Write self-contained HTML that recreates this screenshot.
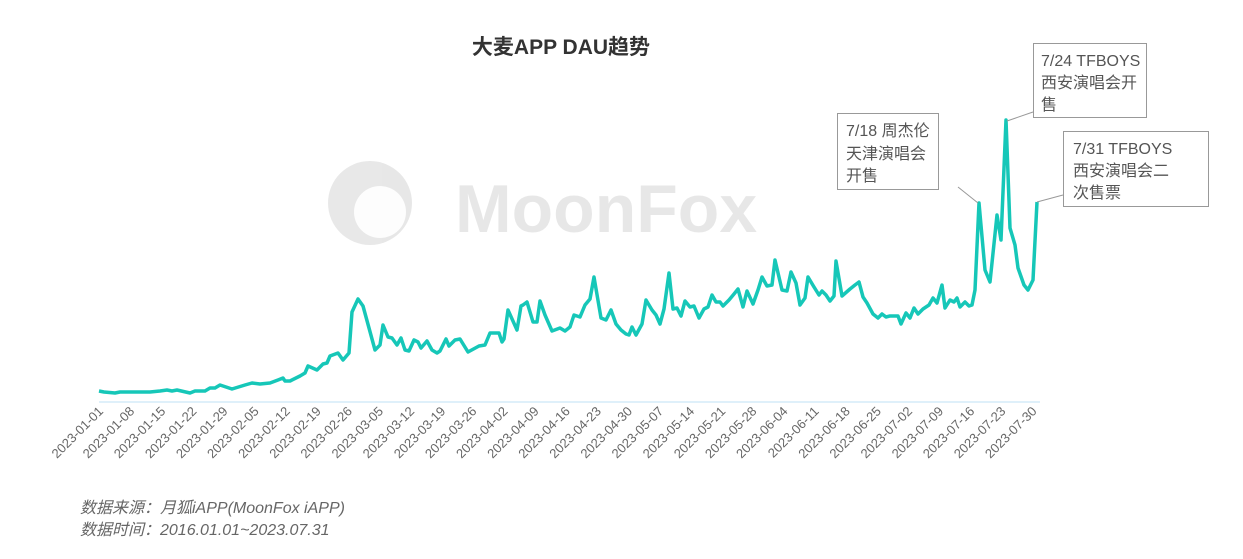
<!DOCTYPE html>
<html><head><meta charset="utf-8"><style>
body{margin:0;background:#fff;}
svg text{font-family:"Liberation Sans","Noto Sans CJK SC",sans-serif;}
</style></head><body>
<svg width="1243" height="554" xmlns="http://www.w3.org/2000/svg">
<text x="561" y="54" text-anchor="middle" font-size="21" font-weight="bold" fill="#333">大麦APP DAU趋势</text>
<g opacity="0.09" fill="#000">
<circle cx="370" cy="203" r="42"/>
<text x="455" y="232" font-size="68" font-weight="bold">MoonFox</text>
</g>
<circle cx="380" cy="212" r="26" fill="#fff" opacity="0.9"/>
<line x1="99" y1="402" x2="1040" y2="402" stroke="#bfe0f5" stroke-width="1"/>
<polyline fill="none" stroke="#16c7b8" stroke-width="3.5" stroke-linejoin="round" points="99,391 104,392 115,393 120,392 150,392 160,391 167,390 172,391 177,390 190,393 195,391 205,391 210,388 215,388 220,385 232,389 245,385 252,383 260,384 270,383 278,380 283,378 285,381 290,381 300,376 305,373 308,366 317,370 323,364 327,363 330,356 338,353 343,360 349,353 352,312 358,299 363,306 375,350 380,345 383,325 388,337 392,338 397,345 401,338 405,350 409,351 414,340 418,342 421,348 427,341 432,350 437,353 440,351 446,339 449,346 455,340 460,339 468,352 479,346 485,345 490,333 495,333 499,333 502,342 504,339 508,310 517,330 521,306 523,305 527,302 533,322 537,322 540,301 545,315 552,331 560,328 565,331 570,327 574,315 580,317 585,305 590,299 594,277 601,318 606,320 611,310 616,324 621,330 626,334 629,335 632,327 636,335 642,324 646,300 652,310 656,315 660,324 664,309 669,273 673,309 677,308 681,316 685,301 690,307 694,306 699,318 704,309 708,307 712,295 716,302 720,302 723,306 729,300 734,294 738,289 743,307 747,291 753,304 758,290 762,277 767,286 772,285 775,260 782,290 787,291 791,272 796,283 800,305 805,298 808,277 814,287 819,295 822,291 826,295 830,301 834,296 836,261 842,296 850,289 855,285 859,282 863,297 867,303 873,314 878,318 882,314 886,317 890,316 894,316 898,316 901,324 906,313 910,318 914,308 918,314 923,309 929,305 933,298 937,303 942,285 945,308 950,300 954,302 957,298 960,307 965,302 969,306 972,305 975,290 979,203 985,270 990,282 997,215 1001,240 1006,120 1010,228 1015,245 1018,268 1024,285 1028,290 1033,280 1037,202"/>
<g font-size="13" fill="#666" id="xl"></g>
<g stroke="#999" fill="#fff">
<rect x="837.5" y="113.5" width="101" height="76"/>
<rect x="1033.5" y="43.5" width="113" height="74"/>
<rect x="1063.5" y="131.5" width="145" height="75"/>
</g>
<g stroke="#999"><line x1="958" y1="187" x2="978" y2="203"/><line x1="1007" y1="121" x2="1033" y2="112"/><line x1="1037" y1="202" x2="1063" y2="195"/></g>
<g font-size="16" fill="#555">
<text x="846" y="136">7/18 周杰伦</text><text x="846" y="159">天津演唱会</text><text x="846" y="181">开售</text>
<text x="1041" y="66">7/24 TFBOYS</text><text x="1041" y="88">西安演唱会开</text><text x="1041" y="110">售</text>
<text x="1073" y="154">7/31 TFBOYS</text><text x="1073" y="176">西安演唱会二</text><text x="1073" y="198">次售票</text>
</g>
<g font-size="16" font-style="italic" fill="#666">
<text x="80" y="513">数据来源：月狐iAPP(MoonFox iAPP)</text>
<text x="80" y="535">数据时间：2016.01.01~2023.07.31</text>
</g>
</svg>
<script>
var labels=["01-01","01-08","01-15","01-22","01-29","02-05","02-12","02-19","02-26","03-05","03-12","03-19","03-26","04-02","04-09","04-16","04-23","04-30","05-07","05-14","05-21","05-28","06-04","06-11","06-18","06-25","07-02","07-09","07-16","07-23","07-30"];
var g=document.getElementById('xl'),s='';
labels.forEach(function(l,i){var x=104+i*7*4.445,y=412;s+='<text x="'+x+'" y="'+y+'" text-anchor="end" transform="rotate(-45 '+x+' '+y+')">2023-'+l+'</text>';});
g.innerHTML=s;
</script>
</body></html>
